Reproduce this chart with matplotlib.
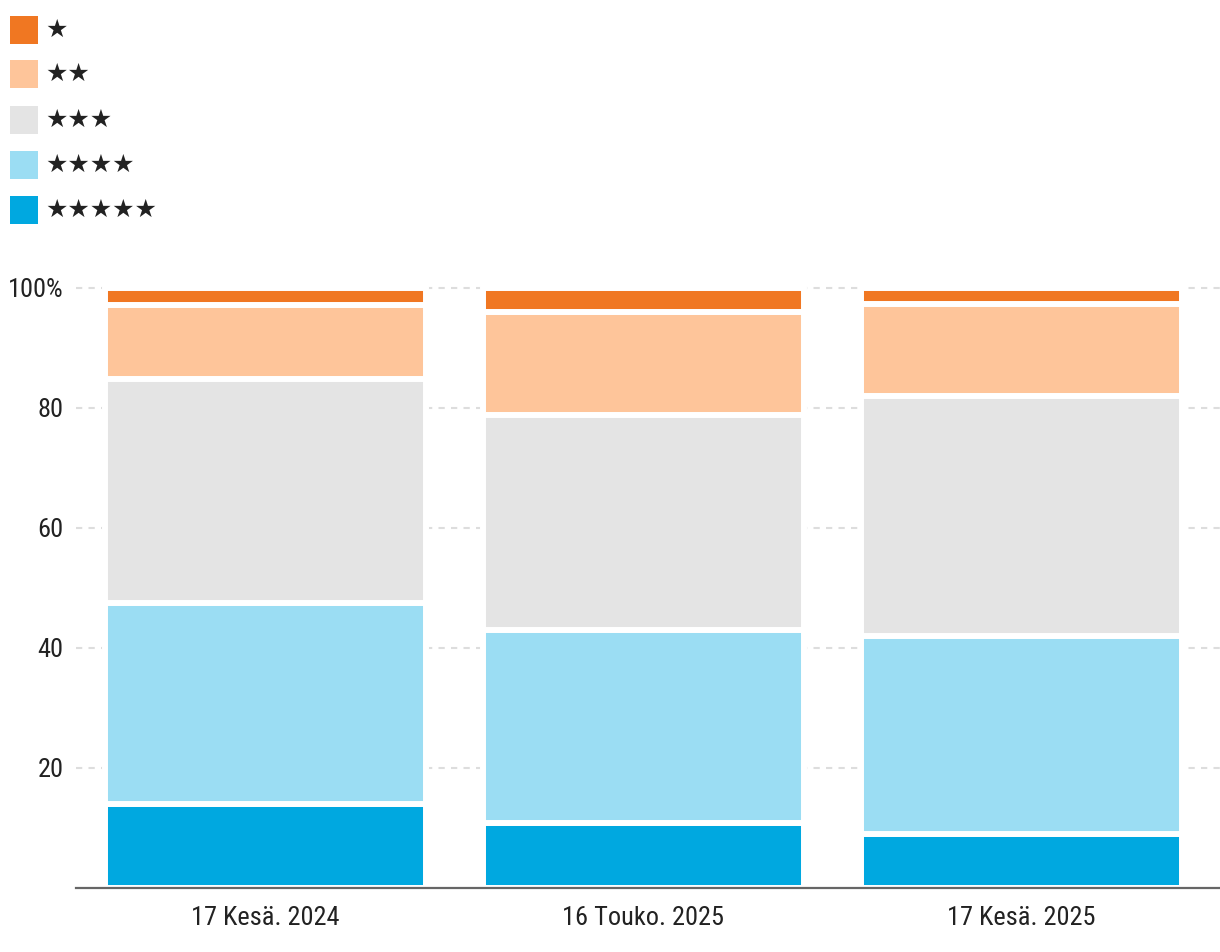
import matplotlib
matplotlib.use("Agg")
import matplotlib.pyplot as plt
from matplotlib.patches import Rectangle
from matplotlib import font_manager
import numpy as np

# data (percent of funds per star rating)
dates = ["17 Kesä. 2024", "16 Touko. 2025", "17 Kesä. 2025"]
five_star = [13.9, 10.7, 8.9]
four_star = [33.5, 32.2, 33.0]
three_star = [37.4, 35.9, 40.0]
two_star = [12.3, 17.1, 15.4]
one_star = [2.9, 4.1, 2.7]

labels = ["★★★★★", "★★★★", "★★★", "★★", "★"]
colors = ["#00A8E0", "#9BDDF3", "#E4E4E4", "#FEC59A", "#F07722"]
yticks = [20, 40, 60, 80, 100]
ytick_labels = ["20", "40", "60", "80", "100%"]

# pick a narrow face if one is installed
names = {f.name for f in font_manager.fontManager.ttflist}
narrow = [n for n in ["Roboto Condensed", "Liberation Sans Narrow", "Open Sans Condensed",
                      "DejaVu Sans Condensed"] if n in names]
base = narrow[0] if narrow else "Liberation Sans"
plt.rcParams['font.family'] = [base, 'DejaVu Sans']

W, H = 1220, 952
fig = plt.figure(figsize=(W / 100, H / 100), dpi=100)
ax = fig.add_axes([76 / W, 64.5 / H, 1 - 76 / W, 611.6 / H])

series = [five_star, four_star, three_star, two_star, one_star]
x = np.arange(len(dates))
bottom = np.zeros(len(dates))
for vals, col in zip(series, colors):
    ax.bar(x, vals, bottom=bottom, width=0.849, color=col,
           edgecolor="white", linewidth=4.3, zorder=2)
    bottom += np.array(vals)

ax.set_xlim(-0.5, 2.525)
ax.set_ylim(0, 102)
ax.set_yticks(yticks)
ax.set_yticklabels(ytick_labels)
ax.set_xticks(x)
ax.set_xticklabels(dates)
fs = 19 if narrow else 16
ax.tick_params(axis="both", length=0, labelsize=fs, labelcolor="#222222")
ax.tick_params(axis="y", pad=9)
ax.tick_params(axis="x", pad=13)
ax.yaxis.grid(True, color="#DDDDDD", linestyle=(0, (3, 3)), linewidth=1.5, zorder=0)
ax.set_axisbelow(True)

for s in ["top", "right", "left"]:
    ax.spines[s].set_visible(False)
ax.spines["bottom"].set_color("#666666")
ax.spines["bottom"].set_linewidth(1.6)
ax.spines["bottom"].set_zorder(3)

# legend, top to bottom: one star .. five stars
row_y = [30, 74, 120, 165, 210]
for yc, lab, col in zip(row_y, labels[::-1], colors[::-1]):
    fig.add_artist(Rectangle((10 / W, 1 - (yc + 14) / H), 28 / W, 28 / H,
                             transform=fig.transFigure, facecolor=col, edgecolor="none"))
    fig.text(45 / W, 1 - yc / H, lab, family="DejaVu Sans", fontsize=18,
             color="#222222", va="center", ha="left")

fig.savefig("out.png", dpi=100)
